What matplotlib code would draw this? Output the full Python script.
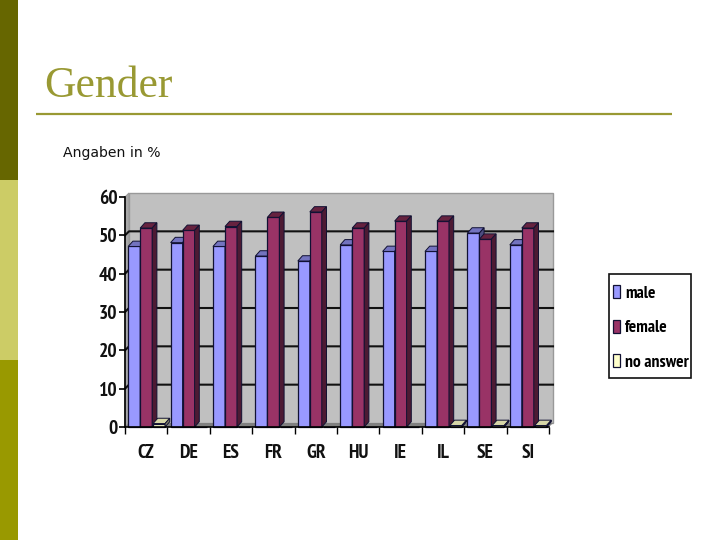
import matplotlib
matplotlib.use("Agg")
import matplotlib.pyplot as plt
from matplotlib.patches import Polygon, Rectangle
from matplotlib import font_manager as fm
import numpy as np

categories = ["CZ", "DE", "ES", "FR", "GR", "HU", "IE", "IL", "SE", "SI"]
male = [47.1, 48.1, 47.1, 44.6, 43.3, 47.5, 45.8, 45.8, 50.6, 47.5]
female = [51.9, 51.3, 52.3, 54.7, 56.1, 51.9, 53.7, 53.7, 49.0, 51.9]
no_answer = [0.9, 0, 0, 0, 0, 0, 0, 0.4, 0.4, 0.4]
yticks = [0, 10, 20, 30, 40, 50, 60]

series = [
    ("male", male, "#9999FF", "#7373BF", "#4D4D80"),
    ("female", female, "#993366", "#66223F", "#4D1A33"),
    ("no answer", no_answer, "#FFFFCC", "#D6D6A8", "#808066"),
]

installed = {f.name for f in fm.fontManager.ttflist}
narrow = next((f for f in ["PT Sans Narrow", "Pragati Narrow", "Barlow Condensed", "Archivo Narrow"] if f in installed), "DejaVu Sans")
small = 1.0 if narrow != "DejaVu Sans" else 0.65

W, H = 720, 540
fig = plt.figure(figsize=(7.2, 5.4), dpi=100, facecolor="white")

# slide decoration
bg = fig.add_axes([0, 0, 1, 1], zorder=0)
bg.set_xlim(0, W); bg.set_ylim(H, 0); bg.axis("off")
bg.add_patch(Rectangle((0, 0), 18, 180, color="#666600", lw=0))
bg.add_patch(Rectangle((0, 180), 18, 180, color="#CCCC66", lw=0))
bg.add_patch(Rectangle((0, 360), 18, 180, color="#999900", lw=0))
bg.plot([36, 672], [114, 114], color="#999933", lw=1.6, solid_capstyle="butt")
bg.text(44, 97, "Gender", family="Liberation Serif", fontsize=31.4, color="#999933", va="baseline", ha="left")
bg.text(63, 157, "Angaben in %", family="DejaVu Sans", fontsize=10.1, color="#111111", va="baseline", ha="left")
bg.add_patch(Rectangle((608.5, 273.5), 82, 104.5, fc="white", ec="#111111", lw=1.2))

# chart
L, R, T, B = 125, 549, 197, 427
ax = fig.add_axes([L / W, 1 - B / H, (R - L) / W, (B - T) / H], zorder=1)
n = len(categories)
ax.set_xlim(0, n); ax.set_ylim(0, yticks[-1])
ax.patch.set_visible(False)
for s in ["top", "right"]:
    ax.spines[s].set_visible(False)
for s in ["left", "bottom"]:
    ax.spines[s].set_linewidth(1.2)
    ax.spines[s].set_zorder(50)

px = (R - L) / n
py = (B - T) / yticks[-1]
dx, dy = 4.0 / px, 4.0 / py          # depth of the wall
bdx, bdy = 4.7 / px, 5.3 / py        # depth of the bars

ax.add_patch(Polygon([(dx, dy), (n + dx, dy), (n + dx, 60 + dy), (dx, 60 + dy)],
                     closed=True, fc="#C0C0C0", ec="#999999", lw=1, zorder=1, clip_on=False))
ax.add_patch(Polygon([(0, 0), (dx, dy), (dx, 60 + dy), (0, 60)],
                     closed=True, fc="#A8A8A8", ec="#999999", lw=0.8, zorder=1, clip_on=False))
ax.add_patch(Polygon([(0, 0), (n, 0), (n + dx, dy), (dx, dy)],
                     closed=True, fc="#808080", ec="none", zorder=1, clip_on=False))
for v in yticks[1:-1]:
    ax.plot([0, dx, n + dx], [v, v + dy, v + dy], color="#111111", lw=1.5, zorder=2, clip_on=False)

bw = 0.283
z = 5
handles = []
for i in range(n):
    for j, (name, vals, face, top, side) in enumerate(series):
        v = vals[i]
        x0 = i + 0.5 + (j - 1.5) * bw
        if j == 2:
            x0 += 0.02
        bar = ax.bar(x0, v, bw, align="edge", color=face, edgecolor="#111133", lw=0.9, zorder=z, clip_on=False)
        if i == 0:
            handles.append(bar[0])
        if v > 0:
            ax.add_patch(Polygon([(x0, v), (x0 + bw, v), (x0 + bw + bdx, v + bdy), (x0 + bdx, v + bdy)],
                                 closed=True, fc=top, ec="#111133", lw=0.7, zorder=z, clip_on=False))
            ax.add_patch(Polygon([(x0 + bw, 0), (x0 + bw + bdx, bdy), (x0 + bw + bdx, v + bdy), (x0 + bw, v)],
                                 closed=True, fc=side, ec="#111133", lw=0.7, zorder=z, clip_on=False))
        z += 1

ax.set_yticks(yticks)
ax.set_yticklabels([str(v) for v in yticks], family=narrow, fontweight="bold", fontsize=14 * small, color="#111111")
ax.tick_params(axis="y", length=4, width=1.2, pad=1.5)
ax.set_xticks(np.arange(n + 1))
ax.set_xticklabels([""] * (n + 1))
ax.set_xticks(np.arange(n) + 0.5, minor=True)
ax.set_xticklabels(categories, minor=True, family=narrow, fontweight="bold", fontsize=14 * small, color="#111111")
ax.tick_params(axis="x", which="major", length=5, width=1)
ax.tick_params(axis="x", which="minor", length=0, pad=12.5)

leg = ax.legend(handles, [s[0] for s in series],
                loc="upper left",
                bbox_to_anchor=(612.7 / W, 1 - 285 / H),
                bbox_transform=fig.transFigure,
                prop={"family": narrow, "weight": "bold", "size": 12.6 * small},
                frameon=False,
                borderaxespad=0, borderpad=0, labelspacing=1.04,
                handlelength=0.42, handleheight=0.75, handletextpad=0.28)
leg.set_zorder(100)

fig.savefig("out.png", dpi=100)
